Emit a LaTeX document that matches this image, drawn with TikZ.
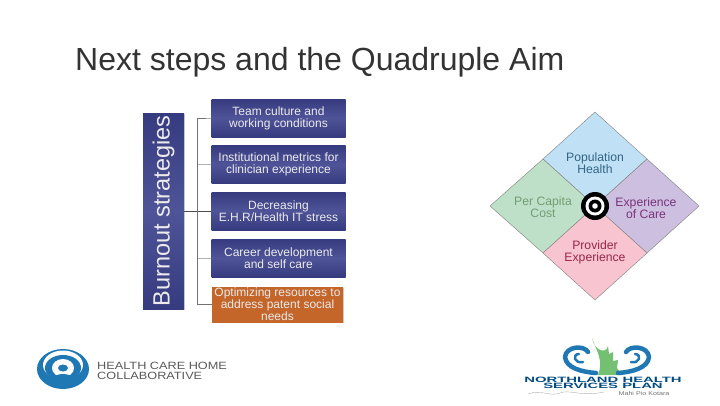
\documentclass[tikz,border=0pt]{standalone}
\usepackage{fontspec}
\setmainfont{Liberation Sans}
\usetikzlibrary{shadows}
\definecolor{boxnavy}{HTML}{363A7E}
\definecolor{boxmid}{HTML}{4F5499}
\definecolor{boxorange}{HTML}{C4652A}
\definecolor{logoblue}{HTML}{1F78B4}
\definecolor{quadblue}{HTML}{BFE0F5}
\definecolor{quadgreen}{HTML}{BEE0C8}
\definecolor{quadviolet}{HTML}{CDBFE0}
\definecolor{quadpink}{HTML}{F8C4D0}
\tikzset{
  strategy/.style={minimum width=134pt, minimum height=38pt, inner sep=0pt, align=center, text=white!92!black,
    font=\fontsize{12}{12}\selectfont, top color=boxnavy, bottom color=boxnavy, middle color=boxmid, drop shadow={shadow xshift=0.6pt, shadow yshift=-0.6pt, opacity=0.3}},
  quadtext/.style={align=center, font=\fontsize{12.2}{12.2}\selectfont}
}
\begin{document}
\begin{tikzpicture}[x=1pt, y=-1pt, line join=round]
	\useasboundingbox (0,0) rectangle (720,405);
	\fill[white] (0,0) rectangle (720,405);
	\node[anchor=west, inner sep=0pt, font=\fontsize{32}{33}\selectfont, text=black!80] (title) at (75,62) {Next steps and the Quadruple Aim};
	% strategies tree
	\node[strategy, minimum width=196pt, minimum height=41pt, rotate=90, font=\fontsize{23.5}{24}\selectfont] (side) at (163.5,211) {Burnout strategies};
	\node[strategy] (team) at (278.5,118) {Team culture and\\working conditions};
	\node[strategy] (metrics) at (278.5,164.5) {Institutional metrics for\\clinician experience};
	\node[strategy] (ehr) at (278.5,211) {Decreasing\\E.H.R/Health IT stress};
	\node[strategy] (career) at (278.5,258) {Career development\\and self care};
	\node[strategy, top color=boxorange, bottom color=boxorange, middle color=boxorange, drop shadow={opacity=0}, minimum width=131pt, minimum height=35pt] (social) at (277.5,304.5) {Optimizing resources to\\address patent social\\needs};
	\coordinate (trunk) at (197.5,211);
	\draw[black!70] (side.south |- trunk) -- (ehr.west);
	\draw[black!55] (trunk |- team) -- (trunk |- social);
	\foreach \n in {team,metrics,career,social}
		\draw[black!30] (trunk |- \n) -- (\n.west);
	\draw[black!55] (trunk |- team) -- ++(8,0) (trunk |- social) -- ++(14,0);
	% quadruple aim
	\coordinate (O) at (595,206);
	\coordinate (T) at (595,112);
	\coordinate (B) at (595,300);
	\coordinate (L) at (490,206);
	\coordinate (R) at (699,206);
	\coordinate (TL) at (543,159);
	\coordinate (TR) at (647,159);
	\coordinate (BL) at (543,253);
	\coordinate (BR) at (647,253);
	\filldraw[draw=black!50, fill=quadblue] (T) -- (TR) -- (O) -- (TL) -- cycle;
	\filldraw[draw=black!50, fill=quadgreen] (L) -- (TL) -- (O) -- (BL) -- cycle;
	\filldraw[draw=black!50, fill=quadviolet] (R) -- (TR) -- (O) -- (BR) -- cycle;
	\filldraw[draw=black!50, fill=quadpink] (B) -- (BL) -- (O) -- (BR) -- cycle;
	\node[quadtext, text=blue!40!cyan!40!black!80] (pop) at (595,163) {Population\\Health};
	\node[quadtext, text=green!30!black!55] (cost) at (543,207) {Per Capita\\Cost};
	\node[quadtext, text=violet!70!black!80] (care) at (646,208) {Experience\\of Care};
	\node[quadtext, text=purple!70!black!85] (prov) at (595,252) {Provider\\Experience};
	\fill (O) circle (14);
	\fill[white] (O) circle (9.5);
	\fill (O) circle (6.5);
	\fill[white] (O) circle (2.8);
	% health care home logo
	\fill[logoblue] (63,369) ellipse (26 and 20);
	\fill[white] (63,365) ellipse (20 and 14.5);
	\fill[logoblue] (63,368) ellipse (18 and 13);
	\fill[white] (63,368) ellipse (11 and 9);
	\fill[logoblue] (50,380) .. controls (56,372) and (70,372) .. (76,380) -- cycle;
	\fill[logoblue] (63,368) ellipse (5 and 3.5);
	\node[anchor=west, inner sep=0pt, align=left, text=black!65, xscale=1.21, font=\fontsize{10.5}{10}\selectfont] (hch) at (97,371) {HEALTH CARE HOME\\COLLABORATIVE};
	% northland logo
	\fill[green!55!black!55] (592,338) .. controls (594,350) and (606,355) .. (608,346) -- (609,354) -- (613,352) -- (613,361) -- (618,360) -- (617,368) -- (622,375) -- (598,375) .. controls (604,360) and (596,350) .. (592,338) -- cycle;
	\foreach \mx/\sx in {0/1,1214/-1} {
		\draw[logoblue, line width=4.5pt, line cap=round] (\mx+\sx*596,373) .. controls (\mx+\sx*582,372) and (\mx+\sx*566,368) .. (\mx+\sx*565,357) .. controls (\mx+\sx*566,346) and (\mx+\sx*584,345) .. (\mx+\sx*588,352);
		\draw[logoblue, line width=2.5pt, line cap=round] (\mx+\sx*583,362) .. controls (\mx+\sx*574,364) and (\mx+\sx*572,354) .. (\mx+\sx*579,354);
	}
	\node[inner sep=0pt, align=center, text=blue!40!cyan!50!black, xscale=1.93, font=\bfseries\fontsize{7.7}{6.6}\selectfont] (nhsp) at (603,383) {NORTHLAND HEALTH\\SERVICES PLAN};
	\node[inner sep=0pt, text=black!55, xscale=1.3, font=\fontsize{5.5}{6}\selectfont] (motto) at (644,393.5) {Mahi Pio Kotara};
	\draw[black!30, line width=0.4pt] (528,394) .. controls (540,389) and (550,397) .. (560,393) .. controls (570,389) and (580,397) .. (604,392);
\end{tikzpicture}
\end{document}
